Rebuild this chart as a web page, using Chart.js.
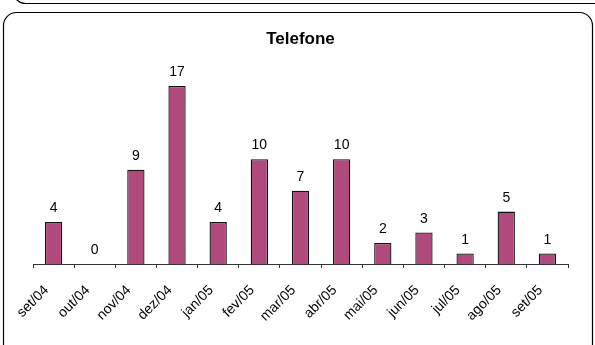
<!DOCTYPE html>
<html>
<head>
<meta charset="utf-8">
<script src="https://cdn.jsdelivr.net/npm/chart.js@4/dist/chart.umd.min.js"></script>
<style>
  html, body { margin: 0; padding: 0; background: #fff; }
  #wrap { width: 595px; height: 345px; position: relative; }
</style>
</head>
<body>
<div id="wrap"><canvas id="c" width="595" height="345"></canvas></div>
<script>
// Monthly phone contacts
const months = ['set/04','out/04','nov/04','dez/04','jan/05','fev/05','mar/05','abr/05','mai/05','jun/05','jul/05','ago/05','set/05'];
const calls = [4, 0, 9, 17, 4, 10, 7, 10, 2, 3, 1, 5, 1];
const chartTitle = 'Telefone';

const FONT = "'Liberation Sans', Arial, sans-serif";

function roundRect(ctx, x, y, w, h, r) {
  ctx.beginPath();
  ctx.moveTo(x + r, y);
  ctx.lineTo(x + w - r, y);
  ctx.arcTo(x + w, y, x + w, y + r, r);
  ctx.lineTo(x + w, y + h - r);
  ctx.arcTo(x + w, y + h, x + w - r, y + h, r);
  ctx.lineTo(x + r, y + h);
  ctx.arcTo(x, y + h, x, y + h - r, r);
  ctx.lineTo(x, y + r);
  ctx.arcTo(x, y, x + r, y, r);
  ctx.closePath();
  ctx.stroke();
}

// Page frames: the panel above and the panel holding this chart
const framePlugin = {
  id: 'frames',
  beforeDraw(chart) {
    const ctx = chart.ctx;
    ctx.save();
    ctx.fillStyle = '#fff';
    ctx.fillRect(0, 0, chart.width, chart.height);
    ctx.strokeStyle = '#000';
    ctx.lineWidth = 1.2;
    roundRect(ctx, 13.5, -40, 600, 43.5, 12);
    roundRect(ctx, 3.5, 12.5, 589, 360, 13);
    ctx.restore();
  }
};

// Value printed above each bar
const valueLabels = {
  id: 'valueLabels',
  afterDatasetsDraw(chart) {
    const ctx = chart.ctx;
    const meta = chart.getDatasetMeta(0);
    const data = chart.data.datasets[0].data;
    ctx.save();
    ctx.font = '14px ' + FONT;
    ctx.fillStyle = '#000';
    ctx.textAlign = 'center';
    ctx.textBaseline = 'alphabetic';
    meta.data.forEach((bar, i) => {
      ctx.fillText(String(data[i]), bar.x, bar.y - 10);
    });
    ctx.restore();
  }
};

new Chart(document.getElementById('c'), {
  type: 'bar',
  data: {
    labels: months,
    datasets: [{
      data: calls,
      backgroundColor: '#B04A7C',
      borderColor: '#111',
      borderWidth: 1.3,
      borderSkipped: 'bottom',
      barPercentage: 0.42,
      categoryPercentage: 1.0
    }]
  },
  options: {
    responsive: false,
    animation: false,
    devicePixelRatio: 1,
    layout: { padding: { left: 33, right: 27, top: 0, bottom: 0 } },
    plugins: {
      legend: { display: false },
      tooltip: { enabled: false },
      title: {
        display: true,
        text: chartTitle,
        color: '#000',
        font: { family: FONT, size: 17, weight: 'bold' },
        padding: { top: 29, bottom: 26 }
      }
    },
    scales: {
      x: {
        offset: true,
        afterFit(scale) { scale.height = 81; },
        grid: {
          display: true,
          offset: true,
          drawOnChartArea: false,
          drawTicks: true,
          tickLength: 4,
          color: '#333'
        },
        border: { display: true, color: '#333', width: 1 },
        ticks: {
          color: '#000',
          font: { family: FONT, size: 14 },
          maxRotation: 45,
          minRotation: 45,
          padding: 14,
          labelOffset: -7,
          autoSkip: false
        }
      },
      y: {
        display: false,
        min: 0,
        max: 18
      }
    }
  },
  plugins: [framePlugin, valueLabels]
});
</script>
</body>
</html>
